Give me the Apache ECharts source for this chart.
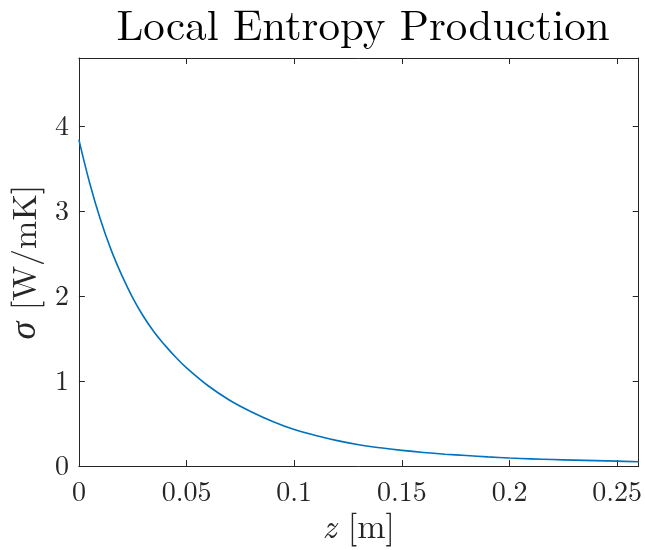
<!DOCTYPE html>
<html>
<head>
<meta charset="utf-8">
<script src="https://cdn.jsdelivr.net/npm/echarts@6/dist/echarts.min.js"></script>
<style>
  html, body { margin: 0; padding: 0; background: #fff; }
  #chart { width: 645px; height: 550px; }
</style>
</head>
<body>
<div id="chart"></div>
<script>
// Axial position z [m]
const zValues = [0, 0.005, 0.01, 0.015, 0.02, 0.025, 0.03, 0.035, 0.04, 0.045, 0.05,
  0.06, 0.07, 0.08, 0.09, 0.10, 0.11, 0.12, 0.13, 0.14, 0.15, 0.16, 0.17, 0.18,
  0.19, 0.20, 0.21, 0.22, 0.23, 0.24, 0.25, 0.26];
// Local entropy production sigma [W/mK]
const sigmaValues = [3.84, 3.33, 2.90, 2.54, 2.24, 1.98, 1.76, 1.575, 1.42, 1.28, 1.155,
  0.945, 0.775, 0.64, 0.525, 0.43, 0.36, 0.30, 0.252, 0.215, 0.185, 0.16, 0.14, 0.124,
  0.108, 0.095, 0.085, 0.077, 0.07, 0.064, 0.058, 0.052];
const xTicks = [0, 0.05, 0.1, 0.15, 0.2, 0.25];
const yTicks = [0, 1, 2, 3, 4];

const serif = '"Latin Modern Roman", "Liberation Serif", "DejaVu Serif", serif';
const greek = '"Liberation Serif", "DejaVu Serif", serif';
const axisColor = '#262626';
const lineData = zValues.map((z, i) => [z, sigmaValues[i]]);

const chart = echarts.init(document.getElementById('chart'), null, { renderer: 'canvas' });

const boxLine = { show: true, onZero: false, lineStyle: { color: axisColor, width: 1 } };
const tickStyle = { show: true, inside: true, length: 6, lineStyle: { color: axisColor, width: 1 } };
const nameStyle = {
  fontFamily: serif, fontSize: 34, color: '#262626',
  rich: {
    it: { fontFamily: serif, fontSize: 34, fontStyle: 'italic', color: '#262626' },
    gr: { fontFamily: greek, fontSize: 36, fontStyle: 'italic', color: '#262626' }
  }
};

chart.setOption({
  animation: false,
  backgroundColor: '#ffffff',
  title: {
    text: 'Local Entropy Production',
    left: 358,
    textAlign: 'center',
    top: 0,
    textStyle: { fontFamily: serif, fontSize: 43, fontWeight: 'normal', color: '#000' }
  },
  grid: { left: 77, right: 5, top: 58, bottom: 83, containLabel: false },
  xAxis: [
    {
      type: 'value', min: 0, max: 0.26, interval: 0.05, position: 'bottom',
      axisLine: boxLine, axisTick: tickStyle, splitLine: { show: false },
      axisLabel: {
        showMaxLabel: false, margin: 12,
        fontFamily: serif, fontSize: 28, color: '#262626',
        formatter: v => (xTicks.some(t => Math.abs(t - v) < 1e-9) ? String(+v.toFixed(2)) : '')
      },
      name: '{it|z} [m]', nameLocation: 'middle', nameGap: 42,
      nameTextStyle: nameStyle
    },
    {
      type: 'value', min: 0, max: 0.26, interval: 0.05, position: 'top',
      axisLine: boxLine, axisTick: tickStyle, axisLabel: { show: false }, splitLine: { show: false }
    }
  ],
  yAxis: [
    {
      type: 'value', min: 0, max: 4.8, interval: 1, position: 'left',
      axisLine: boxLine, axisTick: tickStyle, splitLine: { show: false },
      axisLabel: {
        showMaxLabel: false, margin: 10,
        fontFamily: serif, fontSize: 28, color: '#262626',
        formatter: v => (yTicks.includes(v) ? String(v) : '')
      },
      name: '{gr|σ} [W/mK]', nameLocation: 'middle', nameGap: 30,
      nameTextStyle: nameStyle
    },
    {
      type: 'value', min: 0, max: 4.8, interval: 1, position: 'right',
      axisLine: boxLine, axisTick: tickStyle, axisLabel: { show: false }, splitLine: { show: false }
    }
  ],
  series: [
    {
      type: 'line',
      xAxisIndex: 0, yAxisIndex: 0,
      data: lineData,
      smooth: 0.4,
      showSymbol: false,
      lineStyle: { color: '#0072BD', width: 1.6 }
    }
  ]
});
</script>
</body>
</html>
